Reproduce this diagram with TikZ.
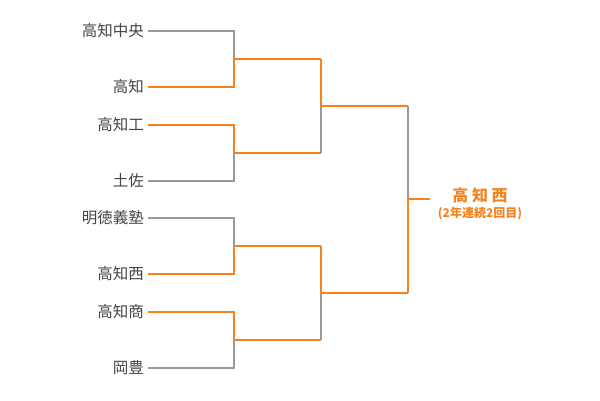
\documentclass[tikz,border=0pt]{standalone}
\usepackage{fontspec}
\setmainfont{Noto Sans CJK JP}
\usepackage{tikz}
\usetikzlibrary{calc}
\definecolor{lose}{HTML}{999999}
\definecolor{win}{HTML}{F5821F}
\definecolor{teamtext}{HTML}{444444}
\tikzstyle{lost}=[draw=lose, line width=2pt]
\tikzstyle{won}=[draw=win, line width=2pt]
\tikzstyle{team}=[anchor=east, inner sep=4pt, text=teamtext, font=\fontsize{15.5}{17}\selectfont]

\begin{document}
\begin{tikzpicture}[x=1pt,y=-1pt]
	\useasboundingbox (0,0) rectangle (600,400);
	% teams
	\node[team] (t1) at (148,31) {高知中央};
	\node[team] (t2) at (148,87) {高知};
	\node[team] (t3) at (148,125) {高知工};
	\node[team] (t4) at (148,181) {土佐};
	\node[team] (t5) at (148,218) {明徳義塾};
	\node[team] (t6) at (148,274) {高知西};
	\node[team] (t7) at (148,312) {高知商};
	\node[team] (t8) at (148,368) {岡豊};
	% round joints
	\coordinate (a1) at (234,59);
	\coordinate (a2) at (234,153);
	\coordinate (a3) at (234,246);
	\coordinate (a4) at (234,340);
	\coordinate (b1) at (321,106);
	\coordinate (b2) at (321,293);
	\coordinate (c1) at (408,199);
	\coordinate (fin) at (430,199);
	% first round
	\draw[lost] (t1.east) -| (a1);
	\draw[won] (t2.east) -| (a1) -- (a1 -| b1);
	\draw[won] (t3.east) -| (a2) -- (a2 -| b1);
	\draw[lost] (t4.east) -| (a2);
	\draw[lost] (t5.east) -| (a3);
	\draw[won] (t6.east) -| (a3) -- (a3 -| b2);
	\draw[won] (t7.east) -| (a4) -- (a4 -| b2);
	\draw[lost] (t8.east) -| (a4);
	% second round
	\draw[won] (a1 -| b1) -- (b1) -- (b1 -| c1);
	\draw[lost] (a2 -| b1) -- (b1);
	\draw[won] (a3 -| b2) -- (b2) -- (b2 -| c1);
	\draw[lost] (a4 -| b2) -- (b2);
	% final
	\draw[lost] (b1 -| c1) -- (c1);
	\draw[won] (b2 -| c1) -- (c1) -- (fin);
	\node[text=win, font=\fontsize{16}{18}\selectfont\bfseries] (champ) at (480,195) {高 知 西};
	\node[text=win, font=\fontsize{12}{14}\selectfont\bfseries] (note) at (480,214) {(2年連続2回目)};
\end{tikzpicture}
\end{document}
